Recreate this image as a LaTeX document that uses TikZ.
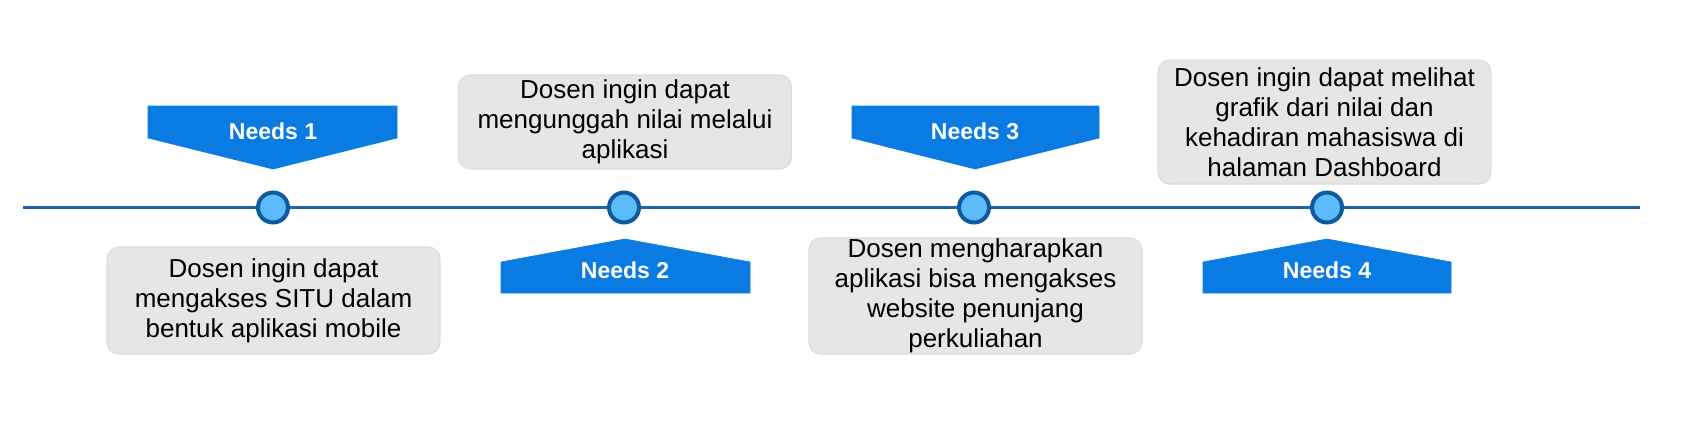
\documentclass[tikz,border=0pt]{standalone}
\usepackage{fontspec}
\setmainfont{Liberation Sans}
\definecolor{needblue}{HTML}{0A7BE2}
\definecolor{dotfill}{HTML}{5CBCFA}
\definecolor{dotline}{HTML}{0F5A9E}
\definecolor{axisline}{HTML}{2063A6}
\definecolor{boxfill}{HTML}{E6E6E6}
\definecolor{boxline}{HTML}{DCDCDC}
\tikzset{
  infobox/.style={draw=boxline, fill=boxfill, line width=0.6pt, rounded corners=6pt,
    minimum width=166.5pt, inner sep=0pt, align=center,
    font=\fontsize{13}{15}\selectfont},
  dot/.style={circle, draw=dotline, fill=dotfill, line width=2pt, minimum size=15pt, inner sep=0pt},
  needtext/.style={text=white, font=\fontsize{11.5}{13}\selectfont\bfseries, inner sep=0pt},
  needshape/.style={fill=needblue, draw=needblue, line width=0.3pt}
}
\begin{document}
\begin{tikzpicture}[x=0.5pt,y=-0.5pt]
\useasboundingbox (0,0) rectangle (1686,424);
% timeline
\coordinate (L) at (23,207.5);
\coordinate (R) at (1640,207.5);
\draw[axisline, line width=1.6pt] (L) -- (R);
% dots
\node[dot] (c1) at (273,207.5) {};
\node[dot] (c2) at (624,207.5) {};
\node[dot] (c3) at (974,207.5) {};
\node[dot] (c4) at (1327,207.5) {};
% needs 1 (down)
\fill[needshape] (148,106) -- (397,106) -- (397,138) -- (273,169) -- (148,138) -- cycle;
\node[needtext] (n1) at (273,131) {Needs 1};
% needs 3 (down)
\fill[needshape] (852,106) -- (1099,106) -- (1099,138) -- (975,169) -- (852,138) -- cycle;
\node[needtext] (n3) at (975,131) {Needs 3};
% needs 2 (up)
\fill[needshape] (501,293) -- (750,293) -- (750,262) -- (625,239) -- (501,262) -- cycle;
\node[needtext] (n2) at (625,270) {Needs 2};
% needs 4 (up)
\fill[needshape] (1203,293) -- (1451,293) -- (1451,262) -- (1327,239) -- (1203,262) -- cycle;
\node[needtext] (n4) at (1327,270) {Needs 4};
% boxes
\node[infobox, minimum height=53.5pt] (b1) at (273.5,300.5) {Dosen ingin dapat\\mengakses SITU dalam\\bentuk aplikasi mobile};
\node[infobox, minimum height=47pt] (b2) at (625,122) {Dosen ingin dapat\\mengunggah nilai melalui\\aplikasi};
\node[infobox, minimum height=58pt] (b3) at (975.5,296) {Dosen mengharapkan\\aplikasi bisa mengakses\\website penunjang\\perkuliahan};
\node[infobox, minimum height=62pt] (b4) at (1324.5,122) {Dosen ingin dapat melihat\\grafik dari nilai dan\\kehadiran mahasiswa di\\halaman Dashboard};
\end{tikzpicture}
\end{document}
